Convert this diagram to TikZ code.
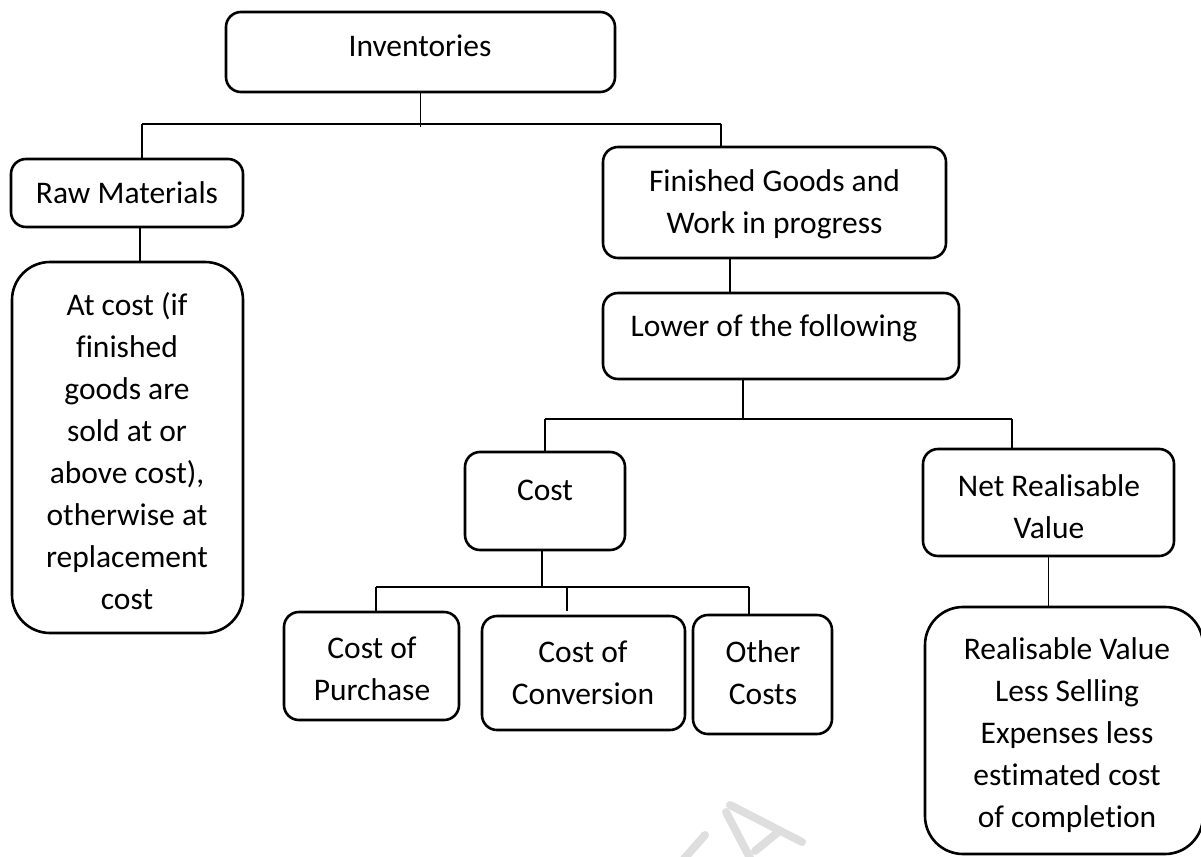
\documentclass[tikz,border=0pt]{standalone}
\usepackage{fontspec}
\setmainfont{Carlito}[Ligatures=NoCommon]
\begin{document}
\begin{tikzpicture}[x=1pt,y=-1pt,
  box/.style={draw, line width=2.6pt, rounded corners=15pt, inner sep=0pt},
  bigbox/.style={box, rounded corners=38pt},
  txt/.style={align=center, inner sep=0pt, font=\fontsize{31.5}{42}\selectfont},
  conn/.style={line width=1.3pt},
  stampline/.style={line width=8pt, line cap=round, color=black!13}]
\useasboundingbox (0,0) rectangle (1201,856);

% faint background stamp
\draw[stampline] (730,805) -- (802,842);
\draw[stampline] (726,812) -- (751,860);
\draw[stampline] (755,851) -- (777,833);
\draw[stampline] (705,835) -- (683,860);

% boxes
\node[box, minimum width=389pt, minimum height=80pt]  (inv)    at (420.5,52)   {};
\node[box, minimum width=232pt, minimum height=68pt]  (raw)    at (127,193)    {};
\node[bigbox, minimum width=231pt, minimum height=371pt] (atcost) at (127.5,447.5) {};
\node[box, minimum width=343pt, minimum height=111pt] (fg)     at (774.5,202.5) {};
\node[box, minimum width=356pt, minimum height=86pt]  (lower)  at (781,336)    {};
\node[box, minimum width=160pt, minimum height=98pt]  (cost)   at (545,501)    {};
\node[box, minimum width=251pt, minimum height=107pt] (nrv)    at (1048.5,502.5) {};
\node[box, minimum width=175pt, minimum height=108pt] (purch)  at (371.5,666)  {};
\node[box, minimum width=203pt, minimum height=114pt] (conv)   at (583.5,673)  {};
\node[box, minimum width=139pt, minimum height=119pt] (other)  at (762.5,674.5) {};
\node[bigbox, minimum width=278pt, minimum height=247pt] (real) at (1064,730.5) {};

% texts
\node[txt] (tinv)    at (420,46)    {Inventories};
\node[txt] (traw)    at (127,193)   {Raw Materials};
\node[txt] (tatcost) at (127,451)   {At cost (if\\finished\\goods are\\sold at or\\above cost),\\otherwise at\\replacement\\cost};
\node[txt] (tfg)     at (774.5,204) {Finished Goods and\\Work in progress};
\node[txt] (tlower)  at (774,328)   {Lower of the following};
\node[txt] (tcost)   at (545,490)   {Cost};
\node[txt] (tnrv)    at (1049,506.5) {Net Realisable\\Value};
\node[txt] (tpurch)  at (372,668.5) {Cost of\\Purchase};
\node[txt] (tconv)   at (583,673)   {Cost of\\Conversion};
\node[txt] (tother)  at (763,673)   {Other\\Costs};
\node[txt] (treal)   at (1067,735)  {Realisable Value\\Less Selling\\Expenses less\\estimated cost\\of completion};

% junction points of the tree
\coordinate (t1) at (142,124);
\coordinate (t2) at (721,124);
\coordinate (r1) at (140,0);
\coordinate (f1) at (730,0);
\coordinate (l1) at (743,419);
\coordinate (l2) at (545,419);
\coordinate (l3) at (1012,419);
\coordinate (c1) at (542,587);
\coordinate (c0) at (376,587);
\coordinate (c2) at (567,587);
\coordinate (c3) at (749,587);

% connectors
\draw[conn] (inv.south) -- ([yshift=-3pt]inv.south |- t1);
\draw[conn] (t1) -- (t2);
\draw[conn] (t1) -- (t1 |- raw.north);
\draw[conn] (t2) -- (t2 |- fg.north);
\draw[conn] (r1 |- raw.south) -- (r1 |- atcost.north);
\draw[conn] (f1 |- fg.south) -- (f1 |- lower.north);
\draw[conn] (l1 |- lower.south) -- (l1);
\draw[conn] (l2) -- (l3);
\draw[conn] (l2) -- (l2 |- cost.north);
\draw[conn] (l3) -- (l3 |- nrv.north);
\draw[conn] (c1 |- cost.south) -- (c1);
\draw[conn] (c0) -- (c3);
\draw[conn] (c0) -- (c0 |- purch.north);
\draw[conn, shorten >=4pt] (c2) -- (c2 |- conv.north);
\draw[conn] (c3) -- (c3 |- other.north);
\draw[conn] (nrv.south) -- (nrv.south |- real.north);
\end{tikzpicture}
\end{document}
